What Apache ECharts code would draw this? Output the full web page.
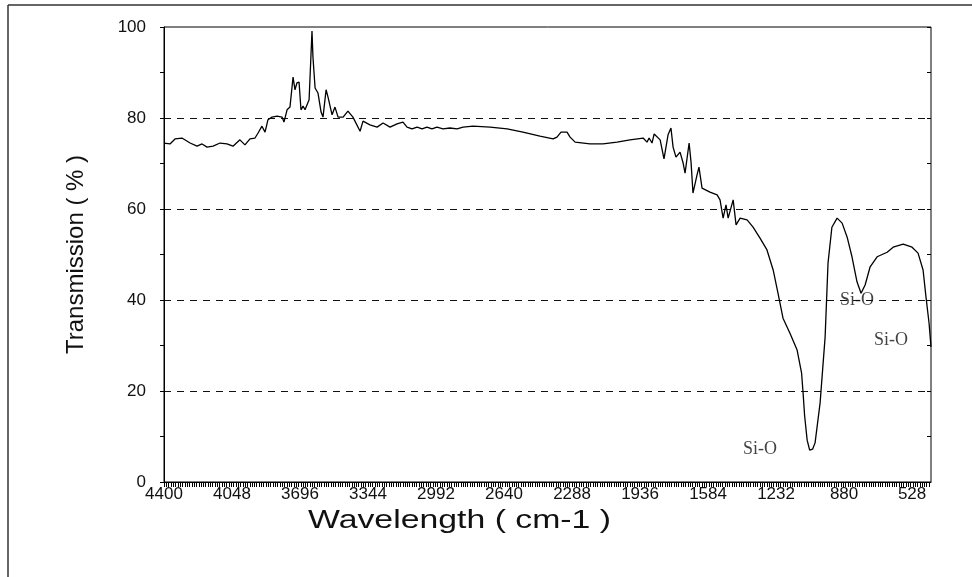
<!DOCTYPE html>
<html>
<head>
<meta charset="utf-8">
<title>IR Transmission</title>
<script src="https://cdn.jsdelivr.net/npm/echarts@6/dist/echarts.min.js"></script>
<style>
  html, body { margin: 0; padding: 0; background: #fff; }
  #irChart { width: 972px; height: 577px; }
</style>
</head>
<body>
<div id="irChart"></div>
<script>
// spectrum (wavenumber cm-1 / transmission %)
const wavenumber = [
  4400,4369,4343,4307,4265,4229,4203,4177,4146,4110,4074,4043,4007,3981,3955,3929,3913,3893,3877,3862,
  3841,3815,3789,3779,3763,3748,3732,3722,3712,3701,3691,3680,3670,3660,3649,3634,3629,3618,3603,3587,
  3577,3561,3551,3530,3515,3499,3473,3448,3422,3385,3370,3334,3297,3266,3230,3194,
  3163,3142,3116,3090,3064,3039,3013,2987,2956,2920,2883,2852,2800,2712,2624,2542,2454,2386,2366,2345,
  2335,2314,2298,2272,2195,2128,2055,1988,1920,1900,1889,1874,1863,
  1853,1832,1812,1791,1776,1765,1750,1729,1713,1703,1693,1682,1672,1662,1641,1631,1615,1574,1537,1522,
  1506,1491,1480,1454,1439,1418,1382,1351,1315,
  1279,1247,1222,1196,1160,1123,1100,1092,1084,1071,1058,1051,1043,1030,1004,978,963,943,916,890,864,839,813,
  792,771,745,709,657,626,574,528,497,471,456,440,430
];
const transmission = [
  74.5,74.3,75.4,75.6,74.5,73.8,74.3,73.6,73.8,74.5,74.3,73.8,75.2,74.1,75.4,75.6,76.7,78.2,76.9,79.6,
  80.2,80.4,80.2,79.1,81.8,82.4,89.0,86.2,87.7,87.9,81.8,82.6,81.8,82.0,84.0,99.1,93.4,86.6,85.5,81.3,
  80.2,86.2,84.6,80.7,82.4,80.2,80.2,81.5,80.2,77.1,79.3,78.5,78.0,78.9,78.0,78.7,
  79.1,78.0,77.6,78.0,77.6,78.0,77.6,78.0,77.6,77.8,77.6,78.0,78.2,78.0,77.6,76.9,76.0,75.4,75.8,76.9,
  76.7,76.9,75.8,74.7,74.3,74.3,74.7,75.2,75.6,74.7,75.6,74.5,76.5,
  76.5,75.2,71.0,76.3,77.8,73.6,71.4,72.5,70.1,67.9,67.9,74.5,70.3,63.5,67.5,69.2,64.6,63.7,63.1,62.0,
  58.0,60.9,58.0,62.0,56.5,58.0,57.6,56.0,53.6,
  51.0,46.6,41.5,36.0,32.7,29.0,24.0,19.5,14.5,9.2,7.0,6.6,7.2,8.6,17.4,31.9,48.1,56.0,58.0,56.9,53.8,49.5,44.0,
  41.5,43.3,47.3,49.5,50.5,51.6,52.3,51.6,50.3,46.6,40.7,34.9,29.7
];

// axis labels
const xTickLabels = [4400, 4048, 3696, 3344, 2992, 2640, 2288, 1936, 1584, 1232, 880, 528];
const yTickLabels = [0, 20, 40, 60, 80, 100];

// band annotations
const bandNames = ['Si-O', 'Si-O', 'Si-O'];
const bandX = [813, 637, 1315];
const bandY = [40, 31.2, 7.3];

const xMin = 430, xMax = 4400;

// dense hatch ticks along the bottom axis
let hatchTicks = [];
for (let w = 4400; w >= xMin; w -= 12) hatchTicks.push(w);

const axisFont = 'Liberation Sans, Arial, sans-serif';

let myChart = echarts.init(document.getElementById('irChart'));

const baseX = {
  type: 'value',
  inverse: true,
  min: xMin,
  max: xMax,
  splitLine: { show: false }
};

let option = {
  animation: false,
  backgroundColor: '#fff',
  grid: {
    left: 164, right: 41, top: 27, bottom: 95,
    show: true, borderColor: '#000', borderWidth: 1
  },
  xAxis: [
    Object.assign({}, baseX, {
      axisLine: { lineStyle: { color: '#000', width: 1 } },
      axisTick: { show: true, inside: false, length: 5, customValues: hatchTicks, lineStyle: { color: '#000' } },
      axisLabel: {
        customValues: xTickLabels,
        formatter: v => String(v),
        margin: 4,
        color: '#111',
        fontFamily: axisFont,
        fontSize: 17
      }
    }),
    Object.assign({}, baseX, {
      axisLine: { show: false },
      axisTick: { show: true, inside: true, length: 5, customValues: hatchTicks, lineStyle: { color: '#000' } },
      axisLabel: { show: false }
    })
  ],
  yAxis: [
    {
      type: 'value', min: 0, max: 100, interval: 10,
      name: 'Transmission ( % )',
      nameLocation: 'middle',
      nameGap: 76,
      nameTextStyle: { fontFamily: axisFont, fontSize: 24, color: '#111' },
      axisLine: { lineStyle: { color: '#000', width: 1 } },
      axisTick: { length: 4, lineStyle: { color: '#000' } },
      axisLabel: {
        margin: 18,
        color: '#111',
        fontFamily: axisFont,
        fontSize: 17,
        formatter: v => (yTickLabels.indexOf(v) >= 0 ? String(v) : '')
      },
      splitLine: { show: false }
    },
    {
      type: 'value', min: 0, max: 100, interval: 10,
      axisLine: { show: false },
      axisTick: { inside: true, length: 4, lineStyle: { color: '#000' } },
      axisLabel: { show: false },
      splitLine: { show: false }
    },
    {
      type: 'value', min: 0, max: 100, interval: 20,
      axisLine: { show: false },
      axisTick: { show: false },
      axisLabel: { show: false },
      splitLine: {
        show: true, showMinLine: false, showMaxLine: false,
        lineStyle: { color: '#111', type: [7, 6], width: 1 }
      }
    }
  ],
  graphic: [
    { type: 'line', shape: { x1: 8, y1: 5, x2: 8, y2: 577 }, style: { stroke: '#333', lineWidth: 1.5 } },
    { type: 'line', shape: { x1: 8, y1: 5, x2: 972, y2: 5 }, style: { stroke: '#333', lineWidth: 1.5 } },
    {
      type: 'text', x: 308, y: 508, scaleX: 1.3,
      style: { text: 'Wavelength ( cm-1 )', font: '26px ' + axisFont, fill: '#111' }
    }
  ],
  series: [
    {
      name: 'spectrum',
      type: 'line',
      xAxisIndex: 0,
      yAxisIndex: 0,
      showSymbol: false,
      symbol: 'none',
      lineStyle: { color: '#000', width: 1.3 },
      data: wavenumber.map((w, i) => [w, transmission[i]])
    },
    {
      name: 'bands',
      type: 'scatter',
      xAxisIndex: 0,
      yAxisIndex: 0,
      symbolSize: 0,
      label: {
        show: true,
        position: 'inside',
        formatter: p => bandNames[p.dataIndex],
        fontFamily: 'Liberation Serif, Times New Roman, serif',
        fontSize: 18,
        color: '#111'
      },
      data: bandX.map((w, i) => [w, bandY[i]])
    }
  ]
};
myChart.setOption(option);
</script>
</body>
</html>
